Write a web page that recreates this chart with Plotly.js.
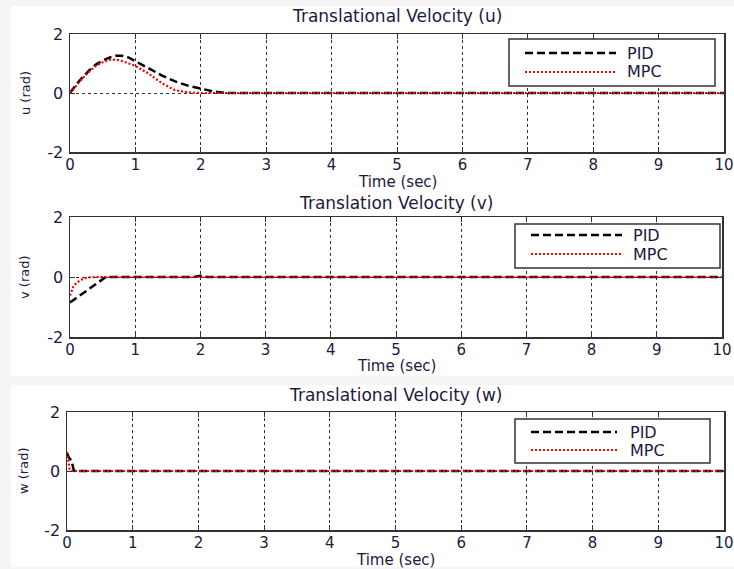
<!DOCTYPE html>
<html><head><meta charset="utf-8">
<script src="https://cdn.plot.ly/plotly-3.0.1.min.js"></script>
<style>body{margin:0;background:#f6f4f4}</style>
</head><body><div id="c" style="width:734px;height:569px"></div>
<script>
// ---- data ----
const xTicks = [0,1,2,3,4,5,6,7,8,9,10];
const yTicks = [-2,0,2];
const titles = ["Translational Velocity (u)","Translation Velocity (v)","Translational Velocity (w)"];
const yTitles = ["u (rad)","v (rad)","w (rad)"];
const xTitle = "Time (sec)";
const legendNames = ["PID","MPC"];

const uPidT = [0,0.1,0.2,0.3,0.4,0.5,0.6,0.7,0.8,0.9,1.0,1.2,1.4,1.6,1.8,2.0,2.2,2.4,10];
const uPidV = [0,0.3,0.55,0.78,0.97,1.1,1.2,1.26,1.26,1.2,1.08,0.85,0.6,0.4,0.25,0.15,0.05,0,0];
const uMpcT = [0,0.1,0.2,0.3,0.4,0.5,0.6,0.7,0.8,0.9,1.0,1.2,1.4,1.6,1.8,2.0,10];
const uMpcV = [0,0.28,0.52,0.74,0.92,1.04,1.12,1.13,1.08,1.0,0.92,0.66,0.34,0.1,0.02,0,0];

const vPidT = [0,0.1,0.2,0.3,0.4,0.5,0.55,1.9,2.0,2.1,10];
const vPidV = [-0.85,-0.7,-0.55,-0.4,-0.25,-0.08,0,0,0.04,0,0];
const vMpcT = [0,0.05,0.1,0.15,0.2,0.25,0.3,0.4,10];
const vMpcV = [-0.62,-0.33,-0.19,-0.11,-0.06,-0.03,-0.01,0,0];

const wPidT = [0,0.03,0.07,0.1,0.12,10];
const wPidV = [0.6,0.45,0.35,0.05,0,0];
const wMpcT = [0,0.02,0.04,0.06,10];
const wMpcV = [0.65,0.3,0.05,0,0];

// ---- layout helpers ----
const W = 734, H = 569;
const px = x => x / W, py = y => 1 - y / H;
const txtColor = '#1a1a40';
const FONT = 'DejaVu Sans, Arial, sans-serif';

const boxes = [
  {l:70, r:724, t:34, b:152},
  {l:70, r:722, t:217, b:337},
  {l:67, r:724, t:412, b:530}
];
const legBoxes = [
  {l:509, r:715, t:39, b:86, y1:53, y2:72, x0:525, x1:616, tx:625},
  {l:515, r:720, t:224, b:268, y1:235, y2:254, x0:531, x1:622, tx:631},
  {l:515, r:710, t:419, b:463, y1:432, y2:450, x0:531, x1:617, tx:628}
];
const titleY = [16, 203, 395];
const xTitleY = [182, 366, 560];
const yTitleX = [25, 25, 23];

const series = [
  [[uPidT,uPidV],[uMpcT,uMpcV]],
  [[vPidT,vPidV],[vMpcT,vMpcV]],
  [[wPidT,wPidV],[wMpcT,wMpcV]]
];

const traces = [];
const layout = {
  width: W, height: H, autosize: false,
  margin: {l:0, r:0, t:0, b:0},
  paper_bgcolor: '#f6f4f4',
  plot_bgcolor: '#ffffff',
  showlegend: false,
  font: {family: FONT, color: txtColor},
  shapes: [
    {type:'rect', xref:'paper', yref:'paper', x0:px(11), x1:1, y0:py(376), y1:py(6), fillcolor:'#ffffff', line:{width:0}, layer:'below'},
    {type:'rect', xref:'paper', yref:'paper', x0:px(11), x1:1, y0:py(567), y1:py(385), fillcolor:'#ffffff', line:{width:0}, layer:'below'}
  ],
  annotations: []
};

for (let i = 0; i < 3; i++) {
  const s = i === 0 ? '' : String(i + 1);
  const b = boxes[i];
  traces.push({x: series[i][0][0], y: series[i][0][1], xaxis:'x'+s, yaxis:'y'+s, mode:'lines',
    line:{color:'#000000', width:2.5, dash:'8px,4px'}});
  traces.push({x: series[i][1][0], y: series[i][1][1], xaxis:'x'+s, yaxis:'y'+s, mode:'lines',
    line:{color:'#ff0000', width:2.2, dash:'2px,2px'}});
  const common = {
    showline:true, linecolor:'#333333', linewidth:1.5, mirror:'ticks',
    ticks:'inside', ticklen:5, tickcolor:'#333333', tickwidth:1,
    showgrid:true, gridcolor:'#333333', gridwidth:1, griddash:'3px,3px',
    zeroline:false, tickfont:{family:FONT, size:15, color:txtColor}, fixedrange:true
  };
  layout['xaxis'+s] = Object.assign({}, common, {
    domain:[px(b.l), px(b.r)], anchor:'y'+s, range:[0,10],
    tickmode:'array', tickvals:xTicks, ticktext:xTicks.map(String),
    ticklabeloverflow:'allow', ticklabelstandoff:-2
  });
  layout['yaxis'+s] = Object.assign({}, common, {
    domain:[py(b.b), py(b.t)], anchor:'x'+s, range:[-2,2],
    tickmode:'array', tickvals:yTicks, ticktext:yTicks.map(String), ticklabelstandoff:2,
    tickfont:{family:FONT, size:16, color:txtColor}
  });
  const cx = (b.l + b.r) / 2;
  layout.annotations.push({xref:'paper', yref:'paper', x:px(cx), y:py(titleY[i]), text:titles[i],
    showarrow:false, xanchor:'center', yanchor:'middle', font:{family:FONT, size:17, color:txtColor}});
  layout.annotations.push({xref:'paper', yref:'paper', x:px(cx), y:py(xTitleY[i]), text:xTitle,
    showarrow:false, xanchor:'center', yanchor:'middle', font:{family:FONT, size:15, color:txtColor}});
  layout.annotations.push({xref:'paper', yref:'paper', x:px(yTitleX[i]), y:py((b.t + b.b) / 2), text:yTitles[i],
    showarrow:false, textangle:-90, xanchor:'center', yanchor:'middle', font:{family:FONT, size:13, color:txtColor}});
  // legend box
  const L = legBoxes[i];
  layout.shapes.push({type:'rect', xref:'paper', yref:'paper', x0:px(L.l), x1:px(L.r), y0:py(L.b), y1:py(L.t),
    fillcolor:'#ffffff', line:{color:'#333333', width:1.5}, layer:'above'});
  layout.shapes.push({type:'line', xref:'paper', yref:'paper', x0:px(L.x0), x1:px(L.x1), y0:py(L.y1), y1:py(L.y1),
    line:{color:'#000000', width:2.5, dash:'8px,4px'}, layer:'above'});
  layout.shapes.push({type:'line', xref:'paper', yref:'paper', x0:px(L.x0), x1:px(L.x1), y0:py(L.y2), y1:py(L.y2),
    line:{color:'#ff0000', width:2.2, dash:'2px,2px'}, layer:'above'});
  layout.annotations.push({xref:'paper', yref:'paper', x:px(L.tx), y:py(L.y1), text:legendNames[0],
    showarrow:false, xanchor:'left', yanchor:'middle', font:{family:FONT, size:16, color:txtColor}});
  layout.annotations.push({xref:'paper', yref:'paper', x:px(L.tx), y:py(L.y2), text:legendNames[1],
    showarrow:false, xanchor:'left', yanchor:'middle', font:{family:FONT, size:16, color:txtColor}});
}

Plotly.newPlot('c', traces, layout, {displayModeBar:false, staticPlot:true});
</script></body></html>
